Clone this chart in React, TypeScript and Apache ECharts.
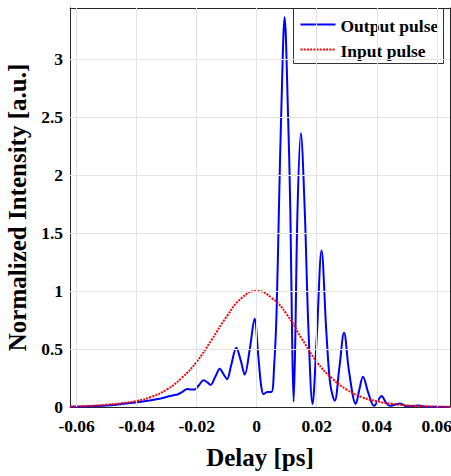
import React, { useEffect, useRef } from "react";
import * as echarts from "echarts";

const outputX = [
  -0.0622, -0.055, -0.05, -0.045, -0.04, -0.036, -0.0334, -0.031, -0.0296, -0.028, -0.0262,
  -0.0245, -0.0232, -0.0218, -0.0207, -0.0192, -0.0177, -0.0163, -0.0154, -0.0138, -0.0123,
  -0.011, -0.0099, -0.0085, -0.0068, -0.0053, -0.004, -0.0023, -0.0007, 0.0005, 0.0015,
  0.0023, 0.0035, 0.0049, 0.0058, 0.0066, 0.0074, 0.0082, 0.0093, 0.0104, 0.0112, 0.0118,
  0.0123, 0.0128, 0.0136, 0.0147, 0.016, 0.0172, 0.0186, 0.02, 0.0216, 0.0232, 0.0245,
  0.026, 0.0275, 0.0291, 0.0308, 0.033, 0.0342, 0.0354, 0.0372, 0.0391, 0.0405, 0.0416,
  0.043, 0.0443, 0.046, 0.0477, 0.05, 0.0538, 0.057, 0.0644,
];
const outputY = [
  0.002, 0.006, 0.012, 0.025, 0.04, 0.055, 0.066, 0.08, 0.09, 0.1, 0.11,
  0.135, 0.155, 0.15, 0.15, 0.19, 0.23, 0.21, 0.19, 0.26, 0.33,
  0.28, 0.24, 0.36, 0.51, 0.4, 0.28, 0.5, 0.76, 0.45, 0.18,
  0.11, 0.13, 0.13, 0.35, 0.8, 1.7, 2.56, 3.36, 2.56, 1.7, 0.6,
  0.046, 0.5, 1.7, 2.36, 1.7, 0.7, 0.026, 0.6, 1.35, 0.65, 0.2,
  0.054, 0.33, 0.64, 0.3, 0.026, 0.15, 0.26, 0.12, 0.01, 0.06, 0.095,
  0.04, 0.01, 0.02, 0.03, 0.005, 0.012, 0.002, 0.001,
];
const inputX = [
  -0.0622, -0.055, -0.05, -0.045, -0.04, -0.035, -0.03, -0.025, -0.02, -0.015, -0.01, -0.005,
  0, 0.005, 0.01, 0.015, 0.02, 0.025, 0.03, 0.035, 0.04, 0.045, 0.05, 0.055, 0.06, 0.0644,
];
const inputY = [
  0.003, 0.01, 0.02, 0.033, 0.052, 0.088, 0.15, 0.25, 0.39, 0.58, 0.78, 0.94,
  1.0, 0.94, 0.8, 0.59, 0.39, 0.25, 0.15, 0.085, 0.05, 0.028, 0.014, 0.007, 0.003, 0.001,
];
const xTickValues = [-0.06, -0.04, -0.02, 0, 0.02, 0.04, 0.06];
const yTickValues = [0, 0.5, 1, 1.5, 2, 2.5, 3];
const seriesNames = ["Output pulse", "Input pulse"];

const FONT = "Liberation Serif";
const AXIS_COLOR = "#262626";
const BLUE = "#0000ff";
const RED = "#ff0000";
const RED_DASH = [2, 1.2];

function fmt(v: number) {
  if (v === 0) return "0";
  return String(Number(v.toFixed(3)));
}

export default function App() {
  const ref = useRef<HTMLDivElement>(null);
  useEffect(() => {
    if (!ref.current) return;
    const chart = echarts.init(ref.current, undefined, { renderer: "svg" });
    const xMin = -0.0622;
    const xMax = 0.0644;
    const yMin = 0;
    const yMax = 3.44;
    const labelStyle = { fontFamily: FONT, fontWeight: "bold" as const, fontSize: 17.5, color: "#000" };
    const legendFont = { fontFamily: FONT, fontWeight: "bold", fontSize: 17.5 };
    chart.setOption({
      animation: false,
      backgroundColor: "#fff",
      grid: { left: 70, top: 8, right: 1, bottom: 69, containLabel: false, outerBoundsMode: "none" },
      graphic: [
        {
          type: "group",
          left: 293,
          top: 8,
          z: 100,
          children: [
            {
              type: "rect",
              shape: { x: 0, y: 0, width: 150, height: 55 },
              style: { fill: "#fff", stroke: "#333", lineWidth: 1 },
            },
            {
              type: "line",
              shape: { x1: 7, y1: 16, x2: 42, y2: 16 },
              style: { stroke: BLUE, lineWidth: 2 },
            },
            {
              type: "line",
              shape: { x1: 7, y1: 41, x2: 42, y2: 41 },
              style: { stroke: RED, lineWidth: 2, lineDash: RED_DASH },
            },
            {
              type: "text",
              x: 47,
              y: 17,
              style: { text: seriesNames[0], ...legendFont, fill: "#000", verticalAlign: "middle", align: "left" },
            },
            {
              type: "text",
              x: 47,
              y: 42,
              style: { text: seriesNames[1], ...legendFont, fill: "#000", verticalAlign: "middle", align: "left" },
            },
          ],
        },
      ],
      xAxis: [
        {
          type: "value",
          min: xMin,
          max: xMax,
          position: "bottom",
          axisLine: { show: true, onZero: false, lineStyle: { color: AXIS_COLOR, width: 1 } },
          axisTick: { show: true, inside: true, length: 5, customValues: xTickValues, lineStyle: { color: AXIS_COLOR } },
          axisLabel: { ...labelStyle, margin: 10, customValues: xTickValues, formatter: (v: number) => fmt(v) },
          splitLine: { show: false },
          name: "Delay [ps]",
          nameLocation: "middle",
          nameGap: 38,
          nameTextStyle: { fontFamily: FONT, fontWeight: "bold", fontSize: 25, color: "#000" },
        },
        {
          type: "value",
          min: xMin,
          max: xMax,
          position: "top",
          axisLine: { show: true, onZero: false, lineStyle: { color: AXIS_COLOR, width: 1 } },
          axisTick: { show: true, inside: true, length: 5, customValues: xTickValues, lineStyle: { color: AXIS_COLOR } },
          axisLabel: { show: false },
          splitLine: { show: false },
        },
      ],
      yAxis: [
        {
          type: "value",
          min: yMin,
          max: yMax,
          position: "left",
          axisLine: { show: true, onZero: false, lineStyle: { color: AXIS_COLOR, width: 1 } },
          axisTick: { show: true, inside: true, length: 5, customValues: yTickValues, lineStyle: { color: AXIS_COLOR } },
          axisLabel: { ...labelStyle, margin: 7, customValues: yTickValues, formatter: (v: number) => fmt(v) },
          splitLine: { show: false },
          name: "Normalized Intensity [a.u.]",
          nameLocation: "middle",
          nameGap: 33,
          nameTextStyle: { fontFamily: FONT, fontWeight: "bold", fontSize: 25, color: "#000" },
        },
        {
          type: "value",
          min: yMin,
          max: yMax,
          position: "right",
          axisLine: { show: true, onZero: false, lineStyle: { color: AXIS_COLOR, width: 1 } },
          axisTick: { show: true, inside: true, length: 5, customValues: yTickValues, lineStyle: { color: AXIS_COLOR } },
          axisLabel: { show: false },
          splitLine: { show: false },
        },
      ],
      series: [
        {
          name: "gridlines",
          type: "line",
          data: [],
          silent: true,
          markLine: {
            silent: true,
            symbol: "none",
            label: { show: false },
            lineStyle: { color: "#e3e3e3", width: 1, type: "solid" },
            data: [
              ...xTickValues.map((v) => ({ xAxis: v })),
              ...yTickValues.filter((v) => v !== 0).map((v) => ({ yAxis: v })),
            ],
          },
        },
        {
          name: seriesNames[0],
          type: "line",
          data: outputX.map((x, i) => [x, outputY[i]]),
          showSymbol: false,
          symbol: "none",
          smooth: 0.35,
          lineStyle: { color: BLUE, width: 2 },
          itemStyle: { color: BLUE },
          z: 3,
        },
        {
          name: seriesNames[1],
          type: "line",
          data: inputX.map((x, i) => [x, inputY[i]]),
          showSymbol: false,
          symbol: "none",
          smooth: 0.5,
          lineStyle: { color: RED, width: 2, type: RED_DASH },
          itemStyle: { color: RED },
          z: 4,
        },
      ],
    });
    return () => chart.dispose();
  }, []);
  return (
    <div
      ref={ref}
      style={{ position: "fixed", left: 0, top: 0, width: 451, height: 476, background: "#fff" }}
    />
  );
}
